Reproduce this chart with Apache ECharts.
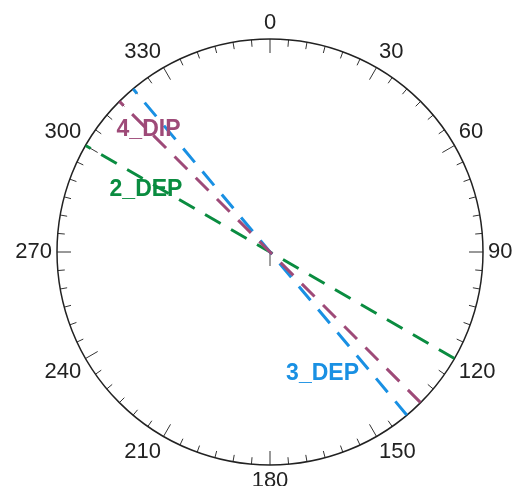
<!DOCTYPE html>
<html>
<head>
<meta charset="utf-8">
<script src="https://cdn.jsdelivr.net/npm/echarts@6/dist/echarts.min.js"></script>
<style>html,body{margin:0;padding:0;background:#fff}#c{width:514px;height:486px}</style>
</head>
<body>
<div id="c"></div>
<script>
// Data
const names = ['2_DEP', '3_DEP', '4_DIP'];
const azimuths = [120, 140, 135];           // line direction (degrees), drawn as a diameter
const colors = ['#0a8c40', '#1990e3', '#9e4a78'];
const labelRadius = [0.651, 0.621, 0.808];   // label anchor (fraction of radius)
const labelAngle = [296.6, 156.6, 315.1];    // label anchor angle
const tickLabels = [0, 30, 60, 90, 120, 150, 180, 210, 240, 270, 300, 330];

const chart = echarts.init(document.getElementById('c'), null, {renderer: 'canvas'});
const FONT = '"Liberation Sans", Arial, sans-serif';

const series = [];
names.forEach((n, i) => {
  const a = azimuths[i];
  const b = (a + 180) % 360;
  series.push({
    type: 'line', coordinateSystem: 'polar', name: n,
    data: [[1, b], [1, a]],
    symbol: 'none', silent: true, z: 3 + i,
    lineStyle: {color: colors[i], width: 3, type: [18, 12], dashOffset: 12, cap: 'butt'}
  });
});
series.push({
  type: 'scatter', coordinateSystem: 'polar', symbolSize: 0, z: 10, silent: true,
  itemStyle: {opacity: 1},
  data: names.map((n, i) => ({
    value: [labelRadius[i], labelAngle[i]], name: n,
    label: {color: colors[i]}
  })),
  label: {show: true, position: 'inside', formatter: p => p.name, opacity: 1,
          fontSize: 23, fontWeight: 'bold', fontFamily: FONT}
});
series.push({
  type: 'line', coordinateSystem: 'polar', data: [[0, 180], [0.066, 180]],
  symbol: 'none', silent: true, z: 2,
  lineStyle: {color: '#808080', width: 1.5}
});

chart.setOption({
  animation: false,
  polar: {center: [270, 252], radius: 213},
  angleAxis: {
    type: 'value', min: 0, max: 360, interval: 30, startAngle: 90, clockwise: true,
    axisLine: {show: true, lineStyle: {color: '#222', width: 1.5}},
    axisTick: {show: true, inside: true, length: 14, lineStyle: {color: '#333', width: 1}},
    minorTick: {show: true, splitNumber: 6, length: 7, lineStyle: {color: '#333', width: 1}},
    axisLabel: {show: true, margin: 5, fontSize: 22, color: '#222', fontFamily: FONT,
                formatter: v => (tickLabels.indexOf(v) >= 0 ? String(v) : '')},
    splitLine: {show: false}
  },
  radiusAxis: {
    min: 0, max: 1, axisLine: {show: false}, axisTick: {show: false},
    axisLabel: {show: false}, splitLine: {show: false}
  },
  series: series
});
</script>
</body>
</html>
